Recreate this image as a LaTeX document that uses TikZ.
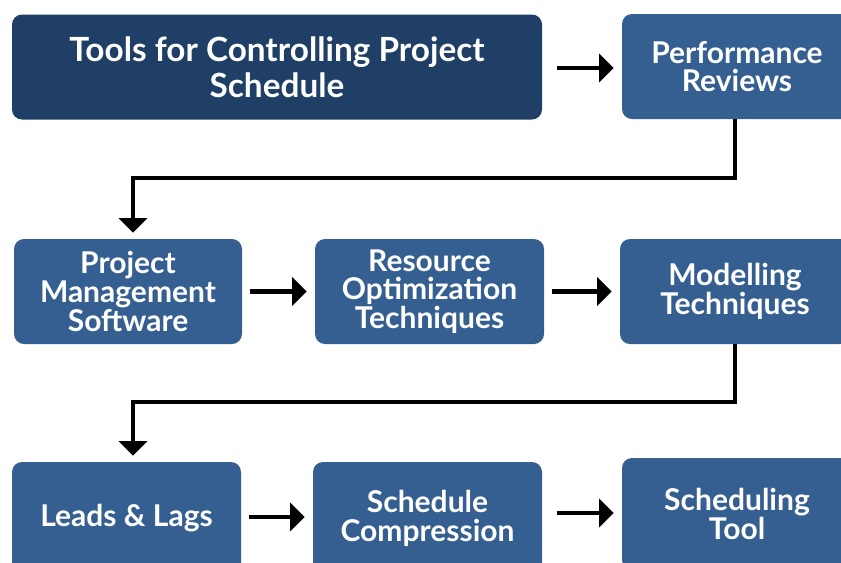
\documentclass[tikz,border=0pt]{standalone}
\usepackage{fontspec}
\setmainfont{Lato}
\usetikzlibrary{arrows.meta}
\definecolor{darkbox}{HTML}{1F3F66}
\definecolor{midbox}{HTML}{365F91}
\tikzset{
  box/.style={rounded corners=7.5pt, fill=midbox, draw=none, text=white, align=center,
    minimum height=105*0.75pt, inner sep=0pt,
    font=\fontsize{22.5}{21.6}\selectfont\bfseries},
  lowbox/.style={box, minimum height=112*0.75pt},
  titlebox/.style={box, fill=darkbox, font=\fontsize{25}{27}\selectfont\bfseries},
  flow/.style={line width=3.6pt, -{Triangle[length=11pt,width=21pt]}, shorten <=5.5pt, shorten >=6pt},
  wideflow/.style={flow, shorten <=11pt},
  elbow/.style={line width=3pt, -{Triangle[length=11pt,width=21pt]}, shorten >=4.5pt},
}
\begin{document}
\begin{tikzpicture}[x=0.75pt,y=-0.75pt]
\useasboundingbox (0,0) rectangle (841,562);
\clip (0,0) rectangle (841,562);
\node[titlebox, minimum width=530*0.75pt] (title) at (277,67) {Tools for Controlling Project\\Schedule};
\node[box, minimum width=230*0.75pt] (pr) at (737,66.5) {Performance\\Reviews};
\node[box, minimum width=228*0.75pt] (pms) at (128,291.5) {Project\\Management\\Software};
\node[box, minimum width=229*0.75pt] (rot) at (429.5,291.5) {Resource\\Optimization\\Techniques};
\node[box, minimum width=230*0.75pt] (mt) at (735,291.5) {Modelling\\Techniques};
\node[lowbox, minimum width=229*0.75pt] (ll) at (126.5,518) {Leads \& Lags};
\node[lowbox, minimum width=229*0.75pt] (sc) at (427.5,518) {Schedule\\Compression};
\node[lowbox, minimum width=230*0.75pt] (st) at (737,514) {Scheduling\\Tool};
\draw[wideflow] (title.east |- 0,68) -- (pr.west |- 0,68);
\draw[flow] (pms) -- (rot);
\draw[flow] (rot) -- (mt);
\draw[flow] (ll.east |- 0,517) -- (sc.west |- 0,517);
\draw[wideflow] (sc.east |- 0,513) -- (st.west |- 0,513);
\coordinate (k1) at (735,178);
\coordinate (k2) at (133,178);
\coordinate (k3) at (735,402);
\coordinate (k4) at (133,402);
\draw[elbow] (pr.south -| k1) -- (k1) -- (k2) -- (pms.north -| k2);
\draw[elbow] (mt.south -| k3) -- (k3) -- (k4) -- (ll.north -| k4);
\end{tikzpicture}
\end{document}
